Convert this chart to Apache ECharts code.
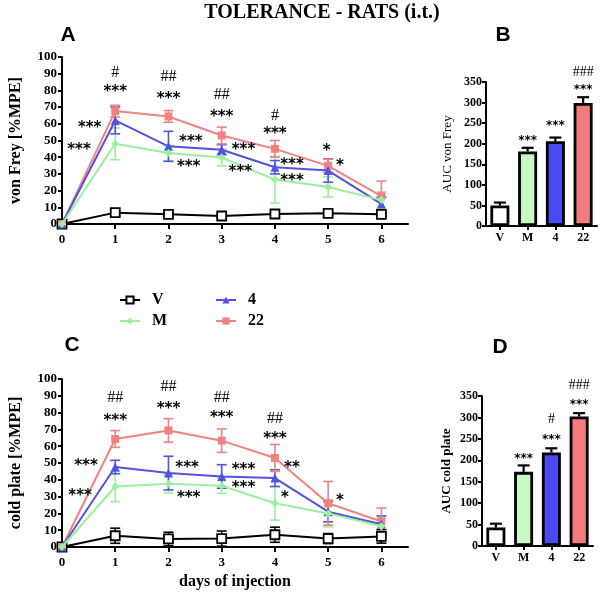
<!DOCTYPE html>
<html><head><meta charset="utf-8">
<script src="https://cdn.jsdelivr.net/npm/echarts@6/dist/echarts.min.js"></script>
<style>html,body{margin:0;padding:0;background:#fff}#c{width:600px;height:592px}</style>
</head><body><div id="c"></div>
<script>
// ---------- data ----------
const days = [0, 1, 2, 3, 4, 5, 6];
const dayTicks = [0, 1, 2, 3, 4, 5, 6];
const groups = ['V', 'M', '4', '22'];

// von Frey [%MPE]
const vfV = [0, 6.8, 5.8, 4.8, 6.0, 6.4, 5.8];
const vfVerr = [0, 1, 1, 1, 1, 1, 1];
const vfM = [0, 48, 42.5, 39.8, 26.6, 22.2, 14.3];
const vfMerr = [0, 9.5, 4.5, 5, 14, 6, 5];
const vf4 = [0, 62, 46.5, 44.5, 34, 32, 12];
const vf4err = [0, 8, 9, 3, 4, 7, 4];
const vf22 = [0, 67.6, 64.4, 53, 45, 34.8, 16.7];
const vf22err = [0, 3.5, 3.5, 5, 5, 4, 9];

// cold plate [%MPE]
const cpV = [0, 6.7, 4.8, 5.0, 7.3, 5.0, 6.3];
const cpVerr = [0, 4.5, 4, 4.5, 4.5, 3, 4];
const cpM = [0, 36, 37.7, 36.5, 26, 20, 12.3];
const cpMerr = [0, 9, 5.5, 4.5, 10, 8, 5];
const cp4 = [0, 47.6, 44, 42, 41, 21, 13.5];
const cp4err = [0, 4, 10, 7, 5, 6, 5];
const cp22 = [0, 64.3, 69.4, 63.3, 53, 26, 15.2];
const cp22err = [0, 5, 7, 7, 8, 13, 8];

// AUC
const aucVF = [50, 181, 206, 299];
const aucVFerr = [7, 9, 9, 14];
const aucCP = [43, 173, 218, 302];
const aucCPerr = [9, 15, 10, 8];

// significance labels [x, y, text]
const annA = [
  [1, 90.8, '#'], [1, 80.9, '***'], [0.52, 59, '***'], [0.32, 46, '***'],
  [2, 88.3, '##'], [2, 76.3, '***'], [2.42, 50.7, '***'], [2.38, 35.8, '***'],
  [3, 77.5, '##'], [3, 65.6, '***'], [3.41, 46, '***'], [3.35, 32.8, '***'],
  [4, 65, '#'], [4, 55.5, '***'], [4.32, 37, '***'], [4.32, 27.4, '***'],
  [4.97, 45.3, '*'], [5.22, 36.4, '*']
];
const annC = [
  [0.45, 50.2, '***'], [0.34, 32.3, '***'],
  [1, 89, '##'], [1, 77, '***'],
  [2, 95.4, '##'], [2, 84.1, '***'], [2.35, 49, '***'], [2.38, 31.1, '***'],
  [3, 89, '##'], [3, 78.8, '***'], [3.41, 47.8, '***'], [3.41, 37.1, '***'],
  [4, 76.4, '##'], [4, 66.3, '***'], [4.32, 49, '**'], [4.19, 31.1, '*'],
  [5.22, 29.3, '*']
];
const annB = [[1, 213, '***'], [2, 250, '***'], [3, 337, '***'], [3, 373, '###']];
const annD = [[1, 210, '***'], [2, 254, '***'], [2, 296, '#'], [3, 334, '***'], [3, 376, '###']];

// ---------- styles ----------
const lineCol = { 'V': '#000000', 'M': '#9cef9c', '4': '#5252e0', '22': '#f08282' };
const barCol = ['#ffffff', '#c9f7c6', '#4a4af0', '#f47b7b'];
const sym = { 'V': 'rect', 'M': 'diamond', '4': 'triangle', '22': 'rect' };
const zOrd = { 'V': 5, '22': 6, '4': 7, 'M': 8 };
const serifB = '"Liberation Serif", "Times New Roman", serif';

const chart = echarts.init(document.getElementById('c'), null, { renderer: 'canvas' });

function lineSeries(name, ys, xi) {
  const isV = name === 'V';
  return {
    name, type: 'line', xAxisIndex: xi, yAxisIndex: xi, z: zOrd[name],
    data: days.map((d, i) => [d, ys[i]]),
    symbol: sym[name], symbolSize: isV ? 9 : (name === '4' ? 9 : 8),
    showAllSymbol: true,
    lineStyle: { color: lineCol[name], width: 2 },
    itemStyle: { color: isV ? '#ffffff' : lineCol[name], borderColor: lineCol[name], borderWidth: isV ? 1.8 : 0 },
    emphasis: { disabled: true }, animation: false
  };
}
function errSeries(name, ys, es, xi) {
  const color = lineCol[name];
  return {
    type: 'custom', xAxisIndex: xi, yAxisIndex: xi, silent: true, z: 4, animation: false,
    data: days.map((d, i) => [d, ys[i], es[i]]),
    renderItem: (params, api) => {
      const x = api.value(0), y = api.value(1), e = api.value(2);
      if (!e) return null;
      const t = api.coord([x, y + e]), b = api.coord([x, y - e]);
      const w = 5, st = { stroke: color, lineWidth: 1.6 };
      return { type: 'group', children: [
        { type: 'line', shape: { x1: t[0], y1: t[1], x2: b[0], y2: b[1] }, style: st },
        { type: 'line', shape: { x1: t[0] - w, y1: t[1], x2: t[0] + w, y2: t[1] }, style: st },
        { type: 'line', shape: { x1: b[0] - w, y1: b[1], x2: b[0] + w, y2: b[1] }, style: st }
      ]};
    }
  };
}
function barErr(vals, errs, xi) {
  return {
    type: 'custom', xAxisIndex: xi, yAxisIndex: xi, silent: true, z: 1, animation: false,
    data: vals.map((v, i) => [i, v, errs[i]]),
    renderItem: (params, api) => {
      const t = api.coord([api.value(0), api.value(1) + api.value(2)]);
      const b = api.coord([api.value(0), api.value(1)]);
      const st = { stroke: '#000', lineWidth: 2.2 };
      return { type: 'group', children: [
        { type: 'line', shape: { x1: t[0], y1: t[1], x2: b[0], y2: b[1] }, style: st },
        { type: 'line', shape: { x1: t[0] - 6, y1: t[1], x2: t[0] + 6, y2: t[1] }, style: st }
      ]};
    }
  };
}
function annSeries(arr, xi, starSize, hashSize) {
  return {
    type: 'custom', xAxisIndex: xi, yAxisIndex: xi, silent: true, z: 10, animation: false,
    data: arr.map(a => [a[0], a[1]]),
    renderItem: (params, api) => {
      const a = arr[params.dataIndex];
      const p = api.coord([api.value(0), api.value(1)]);
      const star = a[2].indexOf('*') >= 0;
      return { type: 'text', x: p[0], y: p[1] + (star ? starSize * 0.2 : 0), style: {
        text: a[2], fill: '#000', align: 'center', verticalAlign: 'middle',
        font: star ? ('bold ' + starSize + 'px "DejaVu Sans", sans-serif') : (hashSize + 'px ' + serifB)
      }};
    }
  };
}

const axisLineStyle = { show: true, lineStyle: { color: '#000', width: 2 } };
const tickStyle = { show: true, length: 4, lineStyle: { color: '#000', width: 2 } };

function dayXAxis(gi, withName) {
  const ax = {
    type: 'value', gridIndex: gi, min: 0, max: 6.5, interval: 1,
    axisLine: { show: true, onZero: false, lineStyle: { color: '#000', width: 2 } },
    axisTick: { show: true, length: 5, customValues: dayTicks, lineStyle: { color: '#000', width: 2 } },
    axisLabel: { customValues: dayTicks, margin: 9, color: '#000', fontFamily: serifB, fontWeight: 'bold', fontSize: 13 },
    splitLine: { show: false }
  };
  if (withName) {
    ax.name = 'days of injection'; ax.nameLocation = 'middle'; ax.nameGap = 27;
    ax.nameTextStyle = { color: '#000', fontFamily: serifB, fontWeight: 'bold', fontSize: 16 };
  }
  return ax;
}
function pctYAxis(gi, name) {
  return {
    type: 'value', gridIndex: gi, min: 0, max: 100, interval: 10,
    axisLine: axisLineStyle, axisTick: tickStyle,
    axisLabel: { margin: 5, color: '#000', fontFamily: serifB, fontWeight: 'bold', fontSize: 13 },
    splitLine: { show: false },
    name, nameLocation: 'middle', nameGap: 38, nameRotate: 90,
    nameTextStyle: { color: '#000', fontFamily: serifB, fontWeight: 'bold', fontSize: 16 }
  };
}
function catXAxis(gi) {
  return {
    type: 'category', gridIndex: gi, data: groups,
    axisLine: { show: true, lineStyle: { color: '#000', width: 2 } },
    axisTick: { show: true, alignWithLabel: true, length: 4, lineStyle: { color: '#000', width: 2 } },
    axisLabel: { margin: 6, color: '#000', fontFamily: serifB, fontWeight: 'bold', fontSize: 12 }
  };
}
function aucYAxis(gi, name, gap, bold) {
  return {
    type: 'value', gridIndex: gi, min: 0, max: 350, interval: 50,
    axisLine: axisLineStyle, axisTick: tickStyle,
    axisLabel: { margin: 4, color: '#000', fontFamily: serifB, fontWeight: 'bold', fontSize: 12 },
    splitLine: { show: false },
    name, nameLocation: 'middle', nameGap: gap, nameRotate: 90,
    nameTextStyle: { color: '#000', fontFamily: serifB, fontWeight: bold ? 'bold' : 'normal', fontSize: 13 }
  };
}
function barSeries(vals, xi) {
  return {
    type: 'bar', xAxisIndex: xi, yAxisIndex: xi, barWidth: 19, z: 2, animation: false,
    data: vals.map((v, i) => ({ value: v, itemStyle: { color: barCol[i] } })),
    itemStyle: { borderColor: '#000', borderWidth: 2.8 }, emphasis: { disabled: true }
  };
}

const legendText = { color: '#000', fontFamily: serifB, fontWeight: 'bold', fontSize: 16, padding: [0, 0, 0, 7] };

const option = {
  backgroundColor: '#fff',
  animation: false,
  grid: [
    { left: 58, top: 57, width: 350, height: 167 },
    { left: 486, top: 82, width: 111, height: 144 },
    { left: 58, top: 379, width: 350, height: 168 },
    { left: 482, top: 396, width: 111, height: 150 }
  ],
  xAxis: [dayXAxis(0, false), catXAxis(1), dayXAxis(2, true), catXAxis(3)],
  yAxis: [pctYAxis(0, 'von Frey [%MPE]'), aucYAxis(1, 'AUC von Frey', 32, false),
          pctYAxis(2, 'cold plate [%MPE]'), aucYAxis(3, 'AUC cold plate', 29, true)],
  legend: [
    { data: ['V', 'M'], orient: 'vertical', left: 114, top: 287, itemWidth: 20, itemHeight: 9, itemGap: 5,
      textStyle: legendText, selectedMode: false },
    { data: ['4', '22'], orient: 'vertical', left: 210, top: 287, itemWidth: 20, itemHeight: 9, itemGap: 5,
      textStyle: legendText, selectedMode: false }
  ],
  graphic: [
    { type: 'text', x: 322, y: 13, style: { text: 'TOLERANCE - RATS (i.t.)', font: 'bold 20px ' + serifB, fill: '#000', align: 'center', verticalAlign: 'middle' } },
    { type: 'text', x: 68, y: 35, style: { text: 'A', font: 'bold 21px "Liberation Sans", Arial, sans-serif', fill: '#000', align: 'center', verticalAlign: 'middle' } },
    { type: 'text', x: 503, y: 35, style: { text: 'B', font: 'bold 21px "Liberation Sans", Arial, sans-serif', fill: '#000', align: 'center', verticalAlign: 'middle' } },
    { type: 'text', x: 72, y: 345, style: { text: 'C', font: 'bold 21px "Liberation Sans", Arial, sans-serif', fill: '#000', align: 'center', verticalAlign: 'middle' } },
    { type: 'text', x: 500, y: 347, style: { text: 'D', font: 'bold 21px "Liberation Sans", Arial, sans-serif', fill: '#000', align: 'center', verticalAlign: 'middle' } }
  ],
  series: [
    errSeries('V', vfV, vfVerr, 0), errSeries('M', vfM, vfMerr, 0), errSeries('4', vf4, vf4err, 0), errSeries('22', vf22, vf22err, 0),
    lineSeries('V', vfV, 0), lineSeries('M', vfM, 0), lineSeries('4', vf4, 0), lineSeries('22', vf22, 0),
    errSeries('V', cpV, cpVerr, 2), errSeries('M', cpM, cpMerr, 2), errSeries('4', cp4, cp4err, 2), errSeries('22', cp22, cp22err, 2),
    lineSeries('V', cpV, 2), lineSeries('M', cpM, 2), lineSeries('4', cp4, 2), lineSeries('22', cp22, 2),
    barErr(aucVF, aucVFerr, 1), barSeries(aucVF, 1),
    barErr(aucCP, aucCPerr, 3), barSeries(aucCP, 3),
    annSeries(annA, 0, 15, 16), annSeries(annC, 2, 15, 16),
    annSeries(annB, 1, 12, 14), annSeries(annD, 3, 12, 14)
  ]
};
chart.setOption(option);
</script>
</body></html>
